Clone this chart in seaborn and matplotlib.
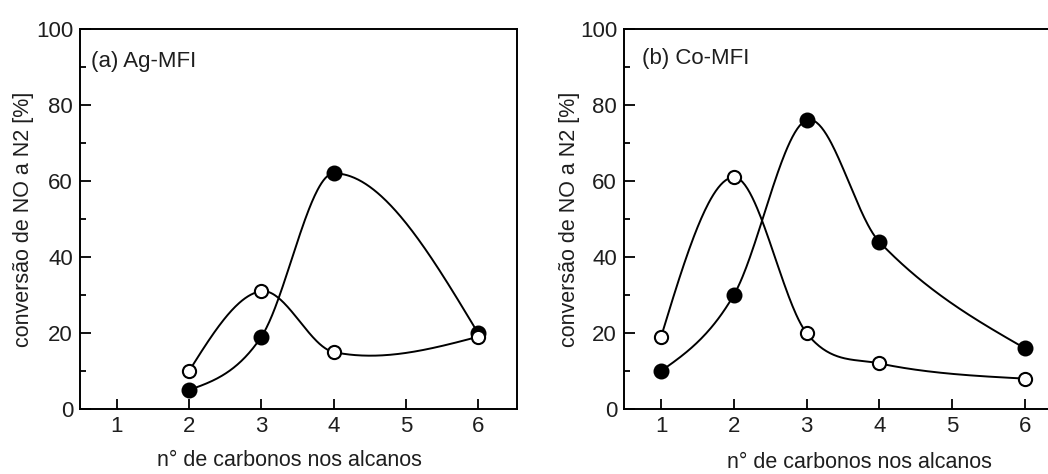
import numpy as np
import pandas as pd
import matplotlib
matplotlib.use("Agg")
import matplotlib.pyplot as plt
from matplotlib.ticker import MultipleLocator, FixedLocator
import seaborn as sns

# ---- data ----
carbons_ag = [2, 3, 4, 6]
ag_filled = [5, 19, 62, 20]
ag_open = [10, 31, 15, 19]

carbons_co = [1, 2, 3, 4, 6]
co_filled = [10, 30, 76, 44, 16]
co_open = [19, 61, 20, 12, 8]

panel_titles = ["(a) Ag-MFI", "(b) Co-MFI"]
x_label = "n° de carbonos nos alcanos"
y_label = "conversão de NO a N2 [%]"
x_ticks = [1, 2, 3, 4, 5, 6]
y_ticks = [0, 20, 40, 60, 80, 100]

sns.set_theme(style="white")
plt.rcParams["font.family"] = ["Liberation Sans", "DejaVu Sans"]
TXT = "#1e1e1e"


def smooth_curve(x, y, n=300):
    """Catmull-Rom style cubic Hermite curve through the data points (for drawing)."""
    x = np.asarray(x, float)
    y = np.asarray(y, float)
    m = len(x)
    tang = np.zeros(m)
    for i in range(1, m - 1):
        tang[i] = (y[i + 1] - y[i - 1]) / (x[i + 1] - x[i - 1])
    d0 = (y[1] - y[0]) / (x[1] - x[0])
    dn = (y[-1] - y[-2]) / (x[-1] - x[-2])
    tang[0] = (3 * d0 - tang[1]) / 2
    tang[-1] = (3 * dn - tang[-2]) / 2
    t = np.linspace(x[0], x[-1], n)
    idx = np.clip(np.searchsorted(x, t) - 1, 0, m - 2)
    h = x[idx + 1] - x[idx]
    u = (t - x[idx]) / h
    h00 = 2 * u**3 - 3 * u**2 + 1
    h10 = u**3 - 2 * u**2 + u
    h01 = -2 * u**3 + 3 * u**2
    h11 = u**3 - u**2
    s = h00 * y[idx] + h10 * h * tang[idx] + h01 * y[idx + 1] + h11 * h * tang[idx + 1]
    return t, s


fig = plt.figure(figsize=(10.48, 4.74), dpi=100)
ax1 = fig.add_axes([80 / 1048, 65 / 474, 437 / 1048, 380 / 474])
ax2 = fig.add_axes([624 / 1048, 65 / 474, 440 / 1048, 380 / 474])

panels = [
    (ax1, carbons_ag, ag_filled, ag_open, panel_titles[0], (0.64, 91.5), (-0.105, 0.5), (0.48, -0.108)),
    (ax2, carbons_co, co_filled, co_open, panel_titles[1], (0.74, 92.3), (-0.10, 0.5), (0.536, -0.112)),
]

for ax, xs, yf, yo, title, tpos, ylc, xlc in panels:
    for ys, face in [(yf, "black"), (yo, "white")]:
        tx, ty = smooth_curve(xs, ys)
        sns.lineplot(x=tx, y=ty, ax=ax, color="black", lw=1.4, sort=False,
                     estimator=None, zorder=2)
        df = pd.DataFrame({"x": xs, "y": ys})
        sns.scatterplot(data=df, x="x", y="y", ax=ax, s=100 if face == "black" else 90,
                        marker="o", color=face, edgecolor="black", linewidth=1.5, zorder=3)

    ax.set_xlim(0.49, 6.54)
    ax.set_ylim(0, 100)
    ax.xaxis.set_major_locator(FixedLocator(x_ticks))
    ax.yaxis.set_major_locator(FixedLocator(y_ticks))
    ax.yaxis.set_minor_locator(MultipleLocator(10))
    ax.tick_params(axis="both", which="both", direction="in", top=False, right=False,
                   colors="black", labelcolor=TXT, labelsize=16, width=1.3)
    ax.tick_params(axis="x", which="major", length=7.5, pad=5, bottom=True)
    ax.tick_params(axis="y", which="major", length=8, pad=5, left=True)
    ax.tick_params(axis="y", which="minor", length=4.5, left=True)
    for sp in ax.spines.values():
        sp.set_visible(True)
        sp.set_color("black")
        sp.set_linewidth(1.4)

    ax.set_xlabel(x_label, fontsize=15.5, color=TXT)
    ax.set_ylabel(y_label, fontsize=15.5, color=TXT)
    ax.yaxis.set_label_coords(*ylc)
    ax.xaxis.set_label_coords(*xlc)
    ax.text(tpos[0], tpos[1], title, fontsize=16, color=TXT, ha="left", va="center")
    ax.grid(False)

fig.savefig("out.png", dpi=100)
